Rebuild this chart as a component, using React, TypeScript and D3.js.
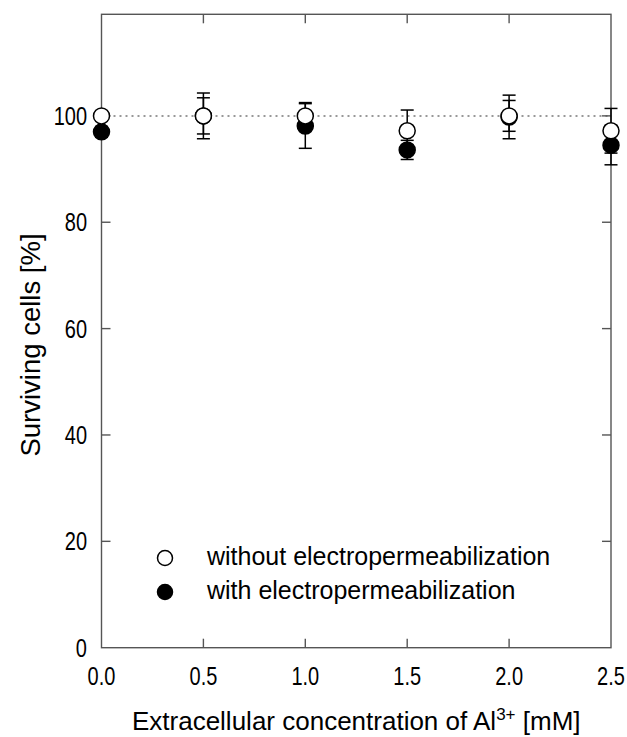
import React from 'react';
import * as d3 from 'd3';

const concentrations = [0, 0.5, 1.0, 1.5, 2.0, 2.5];
const withoutValues = [100, 100, 100, 97.2, 100, 97.2];
const withoutErrors = [0, 3.4, 2.5, 3.9, 2.9, 4.2];
const withValues = [97, 100, 98.1, 93.6, 99.8, 94.5];
const withErrors = [1, 4.3, 4.2, 1.8, 4.1, 3.7];
const xTicks = [0, 0.5, 1.0, 1.5, 2.0, 2.5];
const yTicks = [0, 20, 40, 60, 80, 100];
const legendLabels = ['without electropermeabilization', 'with electropermeabilization'];

const W = 627;
const H = 737;
const L = 101.5, R = 611, T = 14.3, B = 647.7;

export default function App() {
  const x = d3.scaleLinear().domain([0, 2.5]).range([L, R]);
  const y = d3.scaleLinear().domain([0, 119.1]).range([B, T]);
  const font = 'Liberation Sans, Arial, Helvetica, sans-serif';
  const tickLen = 9;
  const cap = 6.5;
  const r = 8;

  const errorBars = (vals: number[], errs: number[], key: string) =>
    concentrations.map((c, i) => {
      const cx = x(c);
      const y1 = y(vals[i] + errs[i]);
      const y0 = y(vals[i] - errs[i]);
      return (
        <g key={key + i} stroke="#000" strokeWidth={1.5}>
          <line x1={cx} x2={cx} y1={y1} y2={y0} />
          <line x1={cx - cap} x2={cx + cap} y1={y1} y2={y1} />
          <line x1={cx - cap} x2={cx + cap} y1={y0} y2={y0} />
        </g>
      );
    });

  return (
    <svg width={W} height={H} style={{ position: 'absolute', left: 0, top: 0 }} fontFamily={font}>
      <rect x={0} y={0} width={W} height={H} fill="#fff" />
      {/* reference dotted line */}
      <line x1={x(0)} x2={x(2.5)} y1={y(100)} y2={y(100)} stroke="#777" strokeWidth={1.5} strokeDasharray="2,4" />
      {/* frame */}
      <rect x={L} y={T} width={R - L} height={B - T} fill="none" stroke="#555" strokeWidth={1.4} />
      {/* ticks */}
      {xTicks.slice(1, -1).map((t) => (
        <g key={'xt' + t} stroke="#555" strokeWidth={1.4}>
          <line x1={x(t)} x2={x(t)} y1={B} y2={B - tickLen} />
          <line x1={x(t)} x2={x(t)} y1={T} y2={T + tickLen} />
        </g>
      ))}
      {yTicks.slice(1).map((t) => (
        <g key={'yt' + t} stroke="#555" strokeWidth={1.4}>
          <line x1={L} x2={L + tickLen} y1={y(t)} y2={y(t)} />
          <line x1={R} x2={R - tickLen} y1={y(t)} y2={y(t)} />
        </g>
      ))}
      {/* tick labels */}
      {xTicks.map((t) => (
        <g key={'xl' + t} transform={`translate(${x(t)},685) scale(0.8,1)`}>
          <text textAnchor="middle" fontSize={25} fill="#000">{d3.format('.1f')(t)}</text>
        </g>
      ))}
      {yTicks.map((t) => (
        <g key={'yl' + t} transform={`translate(87,${y(t) + 9}) scale(0.8,1)`}>
          <text textAnchor="end" fontSize={25} fill="#000">{t}</text>
        </g>
      ))}
      {/* axis titles */}
      <text x={(L + R) / 2} y={730} textAnchor="middle" fontSize={26} fill="#000">
        Extracellular concentration of Al
        <tspan fontSize={17} dy={-10}>3+</tspan>
        <tspan dy={10}> [mM]</tspan>
      </text>
      <text transform={`translate(40,345) rotate(-90)`} textAnchor="middle" fontSize={27.5} fill="#000">
        Surviving cells [%]
      </text>
      {/* with electropermeabilization (filled) */}
      {errorBars(withValues, withErrors, 'we')}
      {concentrations.map((c, i) => (
        <circle key={'wc' + i} cx={x(c)} cy={y(withValues[i])} r={r} fill="#000" stroke="#000" strokeWidth={1.5} />
      ))}
      {/* without electropermeabilization (open) */}
      {errorBars(withoutValues, withoutErrors, 'oe')}
      {concentrations.map((c, i) => (
        <circle key={'oc' + i} cx={x(c)} cy={y(withoutValues[i])} r={r} fill="#fff" stroke="#000" strokeWidth={1.5} />
      ))}
      {/* legend */}
      <circle cx={165} cy={558} r={7.5} fill="#fff" stroke="#000" strokeWidth={1.5} />
      <circle cx={165} cy={592} r={7.5} fill="#000" stroke="#000" strokeWidth={1.5} />
      <text x={207} y={565} fontSize={25} fill="#000">{legendLabels[0]}</text>
      <text x={207} y={599} fontSize={25} fill="#000">{legendLabels[1]}</text>
    </svg>
  );
}
